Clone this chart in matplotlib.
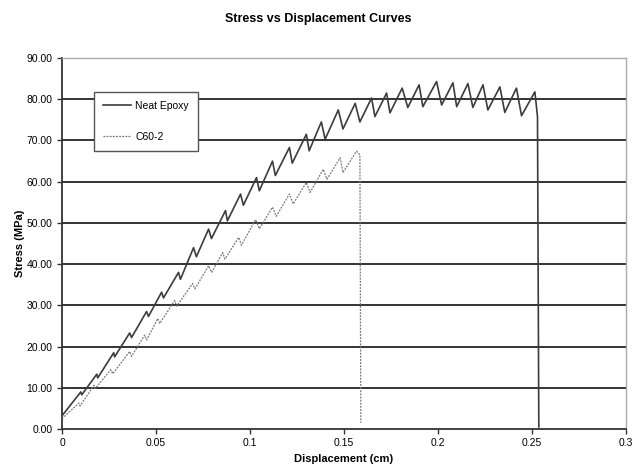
import matplotlib
matplotlib.use("Agg")
import matplotlib.pyplot as plt

plt.rcParams['font.family'] = ['Liberation Sans', 'DejaVu Sans']

# Neat Epoxy: start, then peak/trough pairs, then final failure
neat_x = [0.0, 0.010, 0.0105, 0.0185, 0.019, 0.0275, 0.028, 0.036, 0.037,
          0.045, 0.046, 0.053, 0.054, 0.062, 0.063, 0.070, 0.0715, 0.078, 0.0795,
          0.087, 0.088, 0.095, 0.0965, 0.1035, 0.105, 0.112, 0.1135, 0.121, 0.1225,
          0.130, 0.1315, 0.138, 0.140, 0.147, 0.1495, 0.156, 0.1585, 0.1647, 0.1665,
          0.1727, 0.1745, 0.181, 0.184, 0.190, 0.192, 0.1993, 0.202, 0.208, 0.210,
          0.216, 0.2186, 0.224, 0.2266, 0.233, 0.2356, 0.2418, 0.2445, 0.2516,
          0.253, 0.2537]
neat_y = [3.2, 9.0, 8.3, 13.3, 12.4, 18.5, 17.5, 23.3, 22.2,
          28.5, 27.3, 33.2, 31.8, 38.0, 36.3, 44.0, 41.8, 48.5, 46.2,
          53.0, 50.5, 57.0, 54.3, 61.0, 57.8, 65.0, 61.5, 68.3, 64.5,
          71.5, 67.5, 74.5, 70.3, 77.4, 72.8, 79.0, 74.5, 80.3, 75.8,
          81.5, 76.7, 82.7, 78.0, 83.5, 78.2, 84.3, 78.6, 84.0, 78.2,
          83.8, 78.0, 83.5, 77.4, 83.0, 76.8, 82.7, 76.0, 81.8,
          75.8, 0.5]

# C60-2
c60_x = [0.0, 0.009, 0.0096, 0.017, 0.0176, 0.026, 0.027, 0.036, 0.037,
         0.044, 0.045, 0.051, 0.052, 0.060, 0.061, 0.0695, 0.0707, 0.078, 0.0796,
         0.0855, 0.0867, 0.094, 0.0955, 0.103, 0.105, 0.112, 0.114, 0.121, 0.123,
         0.130, 0.132, 0.139, 0.141, 0.148, 0.1495, 0.1567, 0.1585, 0.159]
c60_y = [2.5, 6.3, 5.6, 10.6, 9.8, 14.4, 13.4, 18.8, 17.6,
         22.8, 21.6, 26.8, 25.6, 31.2, 29.8, 35.3, 34.0, 39.6, 38.0,
         42.8, 41.2, 46.5, 44.6, 50.8, 48.6, 53.8, 51.6, 57.0, 54.6,
         59.8, 57.4, 63.0, 60.6, 65.8, 62.2, 67.4, 66.5, 1.5]

yticks = [0, 10, 20, 30, 40, 50, 60, 70, 80, 90]
xticks = [0, 0.05, 0.1, 0.15, 0.2, 0.25, 0.3]
xtick_labels = ['0', '0.05', '0.1', '0.15', '0.2', '0.25', '0.3']

fig = plt.figure(figsize=(6.36, 4.68), dpi=100)
ax = fig.add_axes([0.0975, 0.0833, 0.8865, 0.7927])

# horizontal grid lines
ax.hlines(yticks[1:-1], 0, 0.3, colors='#333333', linewidth=1.4, zorder=1)

ax.plot(neat_x, neat_y, color='#3c3c3c', linewidth=1.2, label='Neat Epoxy', zorder=3)
ax.plot(c60_x, c60_y, color='#777777', linewidth=0.9, linestyle=(0, (1.5, 1)),
        label='C60-2', zorder=3)

ax.set_xlim(0, 0.3)
ax.set_ylim(0, 90)
ax.set_xticks(xticks)
ax.set_xticklabels(xtick_labels)
ax.set_yticks(yticks)
ax.set_yticklabels([f'{v:.2f}' for v in yticks])
ax.tick_params(axis='both', labelsize=7.5, direction='out', length=3.5,
               width=1, color='#333333')
ax.tick_params(axis='x', pad=3)

for s in ['left', 'bottom']:
    ax.spines[s].set_color('#333333')
    ax.spines[s].set_linewidth(1.3)
for s in ['top', 'right']:
    ax.spines[s].set_color('#aaaaaa')
    ax.spines[s].set_linewidth(1.0)

ax.set_xlabel('Displacement (cm)', fontsize=8, fontweight='bold', labelpad=4)
ax.set_ylabel('Stress (MPa)', fontsize=8, fontweight='bold', labelpad=1)
fig.suptitle('Stress vs Displacement Curves', fontsize=9, fontweight='bold', y=0.972)

leg = ax.legend(loc='upper left', bbox_to_anchor=(0.057, 0.908), borderaxespad=0,
                fontsize=7.5, frameon=True, fancybox=False, labelspacing=2.0,
                handlelength=2.7, handletextpad=0.4, borderpad=0.85)
leg.get_frame().set_edgecolor('#555555')
leg.get_frame().set_linewidth(1.0)
leg.get_frame().set_alpha(1)

fig.savefig('out.png', dpi=100)
